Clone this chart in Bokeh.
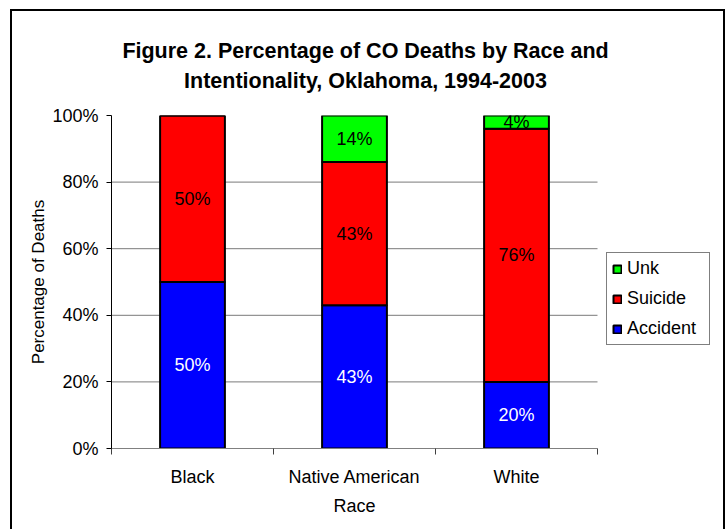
from bokeh.plotting import figure
from bokeh.models import (Range1d, FixedTicker, PrintfTickFormatter, Legend, LegendItem,
                          ColumnDataSource, LinearAxis, InlineStyleSheet)
from bokeh.core.properties import value
from bokeh.embed import file_html
from bokeh.resources import INLINE

# ---- data ----
races = ["Black", "Native American", "White"]
series = ["Accident", "Suicide", "Unk"]
accident = [50, 43, 20]
suicide = [50, 43, 76]
unk = [0, 14, 4]
colors = ["#0000FF", "#FF0000", "#00FF00"]
label_colors = ["white", "black", "black"]
y_ticks = [0, 20, 40, 60, 80, 100]
title_lines = ["Figure 2. Percentage of CO Deaths by Race and",
               "Intentionality, Oklahoma, 1994-2003"]

FONT = "Liberation Sans"

# layout (pixels)
W, H = 728, 529
PLOT_L, PLOT_R, PLOT_T, PLOT_B = 111, 597, 115, 448   # bar area
FRAME_R = 716                                          # frame extends over the legend

n = len(races)
xs = [i + 0.5 for i in range(n)]
x_end = n * (FRAME_R - PLOT_L) / (PLOT_R - PLOT_L)
src = ColumnDataSource(dict(x=xs, Accident=accident, Suicide=suicide, Unk=unk))

border_css = InlineStyleSheet(css="""
:host { position: relative; }
:host::after {
  content: ""; position: absolute; left: 10px; top: 9px; width: 711px; height: 540px;
  border: 2px solid black; pointer-events: none; z-index: 1000;
}
""")

p = figure(width=W, height=H, output_backend="svg", toolbar_location=None,
           x_range=Range1d(0, x_end), y_range=Range1d(0, 100),
           min_border_left=PLOT_L, min_border_right=W - FRAME_R,
           min_border_top=PLOT_T, min_border_bottom=H - PLOT_B,
           stylesheets=[border_css])
p.outline_line_color = None
p.background_fill_color = "white"
p.border_fill_color = "white"

# gridlines, limited to the bar area
grid_y = [t for t in y_ticks if 0 < t < 100]
p.segment(x0=[0] * len(grid_y), x1=[n] * len(grid_y), y0=grid_y, y1=grid_y,
          line_color="#7a7a7a", line_width=1)

renderers = p.vbar_stack(series, x="x", width=0.4, source=src, color=colors,
                         line_color="black", line_width=2)

# bar labels
lx, ly, lt, lc = [], [], [], []
vals = [accident, suicide, unk]
for i in range(n):
    base = 0
    for s, v in enumerate(vals):
        if v[i] > 0:
            lx.append(xs[i]); ly.append(base + v[i] / 2)
            lt.append(f"{v[i]}%"); lc.append(label_colors[s])
        base += v[i]
lsrc = ColumnDataSource(dict(x=lx, y=ly, t=lt, c=lc))
p.text(x="x", y="y", text="t", source=lsrc, text_color="c", text_align="center",
       text_baseline="middle", text_font=value(FONT), text_font_size="18px")

# axes
xa = p.xaxis[0]
xa.bounds = (0, n)
xa.ticker = FixedTicker(ticks=xs, minor_ticks=list(range(n + 1)))
xa.major_label_overrides = {x: r for x, r in zip(xs, races)}
xa.major_tick_out = 0
xa.major_tick_in = 0
xa.minor_tick_out = 6
xa.minor_tick_in = 0
xa.minor_tick_line_color = "#404040"
xa.axis_line_color = "#808080"
xa.major_label_text_font = FONT
xa.major_label_text_font_size = "18px"
xa.major_label_text_color = "black"
xa.major_label_standoff = 12
xa.axis_label = None

ya = p.yaxis[0]
ya.ticker = FixedTicker(ticks=y_ticks)
ya.formatter = PrintfTickFormatter(format="%d%%")
ya.minor_tick_line_color = None
ya.major_tick_out = 5
ya.major_tick_in = 0
ya.axis_line_color = "black"
ya.major_tick_line_color = "black"
ya.major_label_text_font = FONT
ya.major_label_text_font_size = "18px"
ya.major_label_text_color = "black"
ya.major_label_standoff = 8
ya.axis_label = "Percentage of Deaths"
ya.axis_label_text_font = FONT
ya.axis_label_text_font_style = "normal"
ya.axis_label_text_font_size = "17px"
ya.axis_label_text_color = "black"
ya.axis_label_standoff = 1

p.xgrid.grid_line_color = None
p.ygrid.grid_line_color = None

# "Race" axis title, centred under the bar area
race_ax = LinearAxis(ticker=FixedTicker(ticks=[n / 2], minor_ticks=[]),
                     major_label_overrides={n / 2: "Race"},
                     axis_line_color=None, major_tick_line_color=None,
                     minor_tick_line_color=None, major_tick_out=0, major_tick_in=0,
                     major_label_standoff=6,
                     major_label_text_font=FONT, major_label_text_font_size="18px",
                     major_label_text_color="black")
p.add_layout(race_ax, "below")

# title lines as tick-less axes above the plot, centred on the whole chart
TITLE_X = round(((W / 2 + 1) - PLOT_L) / (PLOT_R - PLOT_L) * n, 3)
for line, standoff in [(title_lines[1], 23), (title_lines[0], 3)]:
    ax = LinearAxis(ticker=FixedTicker(ticks=[TITLE_X], minor_ticks=[]),
                    major_label_overrides={TITLE_X: line},
                    axis_line_color=None, major_tick_line_color=None,
                    minor_tick_line_color=None, major_tick_out=0, major_tick_in=0,
                    major_label_standoff=standoff,
                    major_label_text_font=FONT, major_label_text_font_size="21.5px",
                    major_label_text_font_style="bold", major_label_text_color="black")
    p.add_layout(ax, "above")

# legend inside the (extended) frame, right of the bar area
items = [LegendItem(label=s, renderers=[r]) for s, r in zip(series, renderers)][::-1]
leg = Legend(items=items, location=(495, 103), orientation="vertical",
             label_text_font=FONT, label_text_font_size="18px", label_text_color="black",
             glyph_width=10, glyph_height=10, label_height=20, label_width=77,
             label_standoff=5, spacing=9, padding=5, margin=0,
             border_line_color="black", border_line_width=1,
             background_fill_color="white", background_fill_alpha=1)
p.add_layout(leg, "center")

open("out.html", "w").write(file_html(p, INLINE))
